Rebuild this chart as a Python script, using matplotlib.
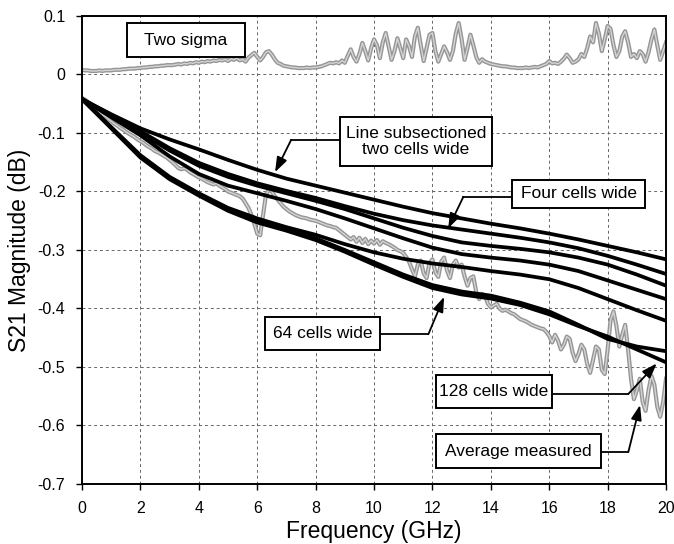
import numpy as np
import matplotlib.pyplot as plt
from matplotlib.patches import Rectangle

plt.rcParams["font.family"] = ["Liberation Sans", "DejaVu Sans"]

# ─── Data ─────────────────────────────────────────────────────────────────────
freq_sim = np.arange(0, 21)          # GHz, 1 GHz steps

two_cells = [-0.042, -0.068, -0.092, -0.111, -0.128, -0.146, -0.163, -0.178, -0.190, -0.202, -0.214,
             -0.226, -0.237, -0.246, -0.255, -0.263, -0.272, -0.282, -0.293, -0.304, -0.316]
four_cells = [-0.042, -0.070, -0.097, -0.126, -0.151, -0.170, -0.186, -0.199, -0.211, -0.225, -0.238,
              -0.249, -0.258, -0.265, -0.272, -0.279, -0.287, -0.297, -0.310, -0.325, -0.341]
eight_cells = [-0.042, -0.071, -0.100, -0.130, -0.156, -0.175, -0.190, -0.203, -0.216, -0.230, -0.246,
               -0.262, -0.276, -0.287, -0.293, -0.298, -0.304, -0.313, -0.325, -0.342, -0.361]
sixteen_cells = [-0.042, -0.073, -0.104, -0.140, -0.170, -0.190, -0.203, -0.216, -0.230, -0.246, -0.263,
                 -0.280, -0.296, -0.307, -0.313, -0.318, -0.325, -0.336, -0.352, -0.368, -0.384]
thirtytwo_cells = [-0.042, -0.090, -0.138, -0.175, -0.203, -0.228, -0.246, -0.261, -0.274, -0.290, -0.304,
                   -0.315, -0.323, -0.329, -0.336, -0.342, -0.350, -0.365, -0.384, -0.403, -0.421]
sixtyfour_cells = [-0.042, -0.091, -0.140, -0.177, -0.205, -0.231, -0.250, -0.264, -0.280, -0.300, -0.321,
                   -0.342, -0.360, -0.371, -0.378, -0.390, -0.405, -0.428, -0.452, -0.465, -0.473]
onetwentyeight_cells = [-0.042, -0.092, -0.142, -0.179, -0.207, -0.233, -0.253, -0.267, -0.283, -0.303, -0.325,
                        -0.346, -0.365, -0.376, -0.383, -0.394, -0.410, -0.430, -0.448, -0.470, -0.492]

freq_meas = np.linspace(0, 20, 201)  # GHz, 0.1 GHz steps

avg_measured = [
    -0.040, -0.043, -0.047, -0.051, -0.056, -0.060, -0.064, -0.068, -0.072, -0.076,
    -0.080, -0.084, -0.087, -0.091, -0.094, -0.098, -0.101, -0.104, -0.107, -0.111,
    -0.114, -0.117, -0.121, -0.124, -0.127, -0.131, -0.133, -0.136, -0.139, -0.142,
    -0.146, -0.150, -0.155, -0.160, -0.162, -0.160, -0.163, -0.167, -0.170, -0.173,
    -0.176, -0.178, -0.181, -0.184, -0.186, -0.188, -0.186, -0.190, -0.193, -0.196,
    -0.200, -0.202, -0.204, -0.206, -0.208, -0.212, -0.220, -0.228, -0.240, -0.255,
    -0.272, -0.275, -0.240, -0.205, -0.197, -0.200, -0.208, -0.214, -0.220, -0.226,
    -0.230, -0.234, -0.237, -0.240, -0.242, -0.244, -0.245, -0.246, -0.248, -0.249,
    -0.250, -0.252, -0.254, -0.256, -0.258, -0.259, -0.261, -0.262, -0.266, -0.270,
    -0.274, -0.278, -0.282, -0.278, -0.286, -0.279, -0.288, -0.281, -0.290, -0.284,
    -0.289, -0.283, -0.291, -0.285, -0.288, -0.290, -0.293, -0.296, -0.300, -0.302,
    -0.305, -0.312, -0.320, -0.333, -0.345, -0.325, -0.318, -0.340, -0.348, -0.322,
    -0.316, -0.338, -0.346, -0.320, -0.313, -0.335, -0.348, -0.325, -0.318, -0.330,
    -0.325, -0.345, -0.361, -0.348, -0.345, -0.372, -0.384, -0.375, -0.378, -0.392,
    -0.398, -0.395, -0.392, -0.400, -0.404, -0.402, -0.405, -0.408, -0.410, -0.414,
    -0.418, -0.420, -0.422, -0.425, -0.428, -0.430, -0.432, -0.434, -0.435, -0.440,
    -0.447, -0.458, -0.445, -0.455, -0.470, -0.462, -0.448, -0.452, -0.475, -0.490,
    -0.478, -0.462, -0.470, -0.495, -0.510, -0.488, -0.465, -0.470, -0.505, -0.512,
    -0.470, -0.420, -0.405, -0.430, -0.465, -0.445, -0.428, -0.470, -0.520, -0.555,
    -0.540, -0.520, -0.560, -0.575, -0.540, -0.515, -0.530, -0.568, -0.585, -0.560,
    -0.520,
]

two_sigma = [
    0.008, 0.007, 0.007, 0.006, 0.006, 0.006, 0.007, 0.006, 0.007, 0.007,
    0.007, 0.008, 0.008, 0.008, 0.009, 0.009, 0.010, 0.010, 0.010, 0.011,
    0.011, 0.012, 0.012, 0.013, 0.013, 0.014, 0.014, 0.015, 0.015, 0.016,
    0.016, 0.016, 0.017, 0.018, 0.017, 0.019, 0.018, 0.020, 0.019, 0.021,
    0.020, 0.022, 0.021, 0.023, 0.022, 0.024, 0.023, 0.025, 0.024, 0.026,
    0.023, 0.027, 0.025, 0.028, 0.024, 0.026, 0.022, 0.029, 0.033, 0.037,
    0.030, 0.024, 0.030, 0.038, 0.040, 0.034, 0.026, 0.020, 0.018, 0.015,
    0.014, 0.013, 0.012, 0.012, 0.011, 0.011, 0.011, 0.012, 0.011, 0.012,
    0.012, 0.013, 0.014, 0.016, 0.018, 0.020, 0.019, 0.021, 0.019, 0.024,
    0.020, 0.032, 0.043, 0.030, 0.022, 0.035, 0.054, 0.040, 0.024, 0.045,
    0.060, 0.050, 0.028, 0.055, 0.071, 0.048, 0.025, 0.040, 0.062, 0.045,
    0.028, 0.060, 0.048, 0.030, 0.065, 0.080, 0.050, 0.023, 0.045, 0.068,
    0.071, 0.040, 0.022, 0.035, 0.048, 0.038, 0.025, 0.040, 0.070, 0.088,
    0.060, 0.025, 0.045, 0.068, 0.050, 0.030, 0.020, 0.026, 0.022, 0.020,
    0.018, 0.017, 0.016, 0.015, 0.014, 0.014, 0.013, 0.012, 0.012, 0.011,
    0.011, 0.011, 0.012, 0.011, 0.012, 0.013, 0.012, 0.014, 0.016, 0.018,
    0.023, 0.019, 0.020, 0.018, 0.022, 0.027, 0.034, 0.028, 0.020, 0.022,
    0.026, 0.035, 0.030, 0.045, 0.065, 0.055, 0.088, 0.070, 0.040, 0.060,
    0.083, 0.078, 0.050, 0.030, 0.040, 0.065, 0.074, 0.055, 0.030, 0.035,
    0.028, 0.040, 0.035, 0.022, 0.038, 0.060, 0.077, 0.050, 0.025, 0.040,
    0.055,
]

x_ticks = list(range(0, 21, 2))
y_ticks = [0.1, 0.0, -0.1, -0.2, -0.3, -0.4, -0.5, -0.6, -0.7]
y_tick_labels = ["0.1", "0", "-0.1", "-0.2", "-0.3", "-0.4", "-0.5", "-0.6", "-0.7"]

# ─── Figure ───────────────────────────────────────────────────────────────────
fig = plt.figure(figsize=(6.74, 5.44), dpi=100)
ax = fig.add_axes([0.1217, 0.1103, 0.8665, 0.8603])


def gray_trace(x, y):
    ax.plot(x, y, color="#959595", lw=3.0, zorder=2, solid_joinstyle="round")
    ax.plot(x, y, color="#d4d4d4", lw=1.0, zorder=2)


gray_trace(freq_meas, two_sigma)
gray_trace(freq_meas, avg_measured)

for series in [two_cells, four_cells, eight_cells, sixteen_cells,
               thirtytwo_cells, sixtyfour_cells, onetwentyeight_cells]:
    ax.plot(freq_sim, series, color="black", lw=2.7, zorder=3,
            solid_capstyle="round", solid_joinstyle="round")

ax.set_xlim(0, 20)
ax.set_ylim(-0.7, 0.1)
ax.set_xticks(x_ticks)
ax.set_xticklabels([str(t) for t in x_ticks], fontsize=11.5)
ax.set_yticks(y_ticks)
ax.set_yticklabels(y_tick_labels, fontsize=11.5)
ax.tick_params(direction="out", length=4, width=1, pad=8)
ax.grid(True, color="#666666", lw=0.7, linestyle=(0, (3, 3)))
ax.set_axisbelow(True)
for sp in ax.spines.values():
    sp.set_linewidth(1.4)

ax.set_xlabel("Frequency (GHz)", fontsize=16.5, labelpad=3)
ax.set_ylabel("S21 Magnitude (dB)", fontsize=16.5, labelpad=5)


# ─── Callout boxes (axes fraction: x0, y0, x1, y1) ────────────────────────────
def callout(text, x0, y0, x1, y1):
    ax.add_patch(Rectangle((x0, y0), x1 - x0, y1 - y0, transform=ax.transAxes,
                           facecolor="white", edgecolor="black", lw=1.4, zorder=5))
    ax.text((x0 + x1) / 2, (y0 + y1) / 2, text, transform=ax.transAxes,
            ha="center", va="center", fontsize=12.5, zorder=6, linespacing=1.05)


def leader(start, bend, tip):
    ax.plot([start[0], bend[0]], [start[1], bend[1]], color="black", lw=1.3, zorder=4)
    ax.annotate("", xy=tip, xytext=bend, zorder=4,
                arrowprops=dict(arrowstyle="-|>,head_length=0.9,head_width=0.32",
                                color="black", lw=1.3, shrinkA=0, shrinkB=0))


callout("Two sigma", 0.0771, 0.9124, 0.2791, 0.985)
callout("Line subsectioned\ntwo cells wide", 0.4418, 0.6795, 0.7021, 0.7842)
callout("Four cells wide", 0.7363, 0.5897, 0.9640, 0.6496)
callout("64 cells wide", 0.3134, 0.2863, 0.5103, 0.3568)
callout("128 cells wide", 0.6062, 0.1624, 0.8048, 0.2329)
callout("Average measured", 0.6062, 0.0342, 0.8887, 0.1068)

leader((8.84, -0.112), (7.16, -0.112), (6.61, -0.167))
leader((14.73, -0.209), (13.06, -0.209), (12.54, -0.263))
leader((10.21, -0.444), (11.86, -0.444), (12.40, -0.380))
leader((16.09, -0.546), (18.71, -0.546), (19.68, -0.494))
leader((17.76, -0.645), (18.71, -0.645), (19.11, -0.565))

fig.savefig("out.png", dpi=100)
